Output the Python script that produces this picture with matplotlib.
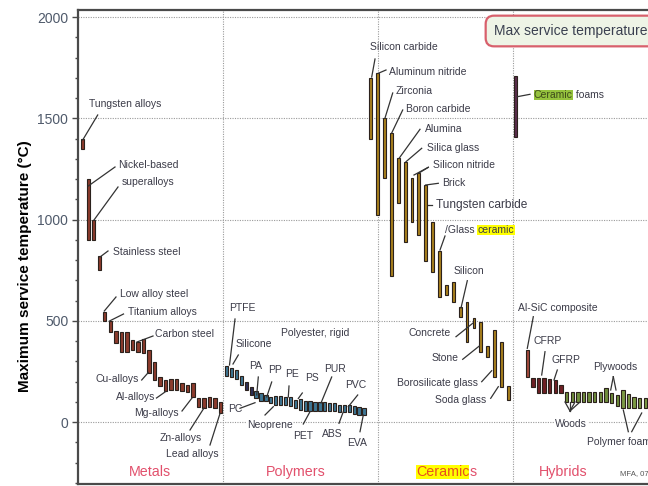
import numpy as np
import matplotlib
matplotlib.use("Agg")
import matplotlib.pyplot as plt
import matplotlib.transforms as mtrans

plt.rcParams['font.family'] = ['Liberation Sans', 'DejaVu Sans']

# max service temperature ranges (deg C), low / high end of each bar
metals_lo = [1350, 900, 900, 750, 500, 446, 392, 347, 347, 356, 347, 339, 244,
             207, 178, 155, 158, 158, 155, 150, 122, 72, 69, 72, 68, 43]
metals_hi = [1400, 1200, 1000, 820, 545, 500, 451, 446, 446, 405, 397, 408, 356,
             298, 224, 207, 212, 215, 194, 183, 194, 117, 117, 122, 117, 100]

polymers_lo = [228, 222, 214, 184, 160, 135, 119, 102, 102, 94, 86, 86, 86, 81, 69,
               61, 56, 56, 56, 56, 56, 53, 53, 49, 49, 49, 40, 36, 33]
polymers_hi = [278, 266, 258, 225, 198, 171, 155, 143, 135, 122, 127, 127, 122, 122, 110,
               115, 105, 102, 99, 99, 99, 94, 94, 86, 86, 86, 77, 72, 69]

ceramics_lo = [1400, 1022, 1203, 720, 1080, 890, 989, 923, 797, 742, 619,
               627, 594, 520, 397, 462, 347, 322, 224, 174, 109]
ceramics_hi = [1700, 1722, 1500, 1426, 1302, 1285, 1203, 1228, 1170, 989, 846,
               677, 693, 569, 594, 512, 495, 375, 454, 397, 178]

foam_lo = [1409]
foam_hi = [1709]

hybrids_lo = [224, 171, 142, 142, 142, 142, 142, 100, 100, 100, 100, 100, 100, 100,
              100, 92, 79, 68, 68, 68, 68, 68]
hybrids_hi = [356, 219, 219, 219, 211, 207, 183, 150, 150, 150, 150, 150, 150, 150,
              166, 142, 133, 158, 140, 126, 118, 118]
hybrid_kind = ['composite'] + ['frp'] * 6 + ['wood'] * 10 + ['pfoam'] * 5

categories = ['Metals', 'Polymers', 'Ceramics', 'Hybrids']

W, H = 648, 486
fig = plt.figure(figsize=(W / 100, H / 100), dpi=100)
# axes placed in pixel terms: left spine at x=78, top at y=10, bottom at y=484
ax = fig.add_axes([78 / W, 2 / H, (760 - 78) / W, 474 / H])
ax.set_xlim(78, 760)
ax.set_ylim(-306, 2035)

# pixel transform (origin top-left) for labels and leader lines
pix = mtrans.Affine2D().scale(1 / W, -1 / H).translate(0, 1) + fig.transFigure

edge = '#2b211c'
fs = 7.5  # label size


def draw_group(lo, hi, x0, x1, colors, width):
    lo = np.asarray(lo, float)
    hi = np.asarray(hi, float)
    x = np.linspace(x0, x1, len(lo))
    ax.bar(x, hi - lo, bottom=lo, width=width, color=colors, edgecolor=edge,
           linewidth=0.8, zorder=3)


draw_group(metals_lo, metals_hi, 82.7, 220.7, '#8c3b2c', 3.4)
poly_cols = ['#3d7694'] * len(polymers_lo)
poly_cols[4] = poly_cols[5] = '#2d2f58'
draw_group(polymers_lo, polymers_hi, 226.7, 364, poly_cols, 3.3)
draw_group(ceramics_lo, ceramics_hi, 370.7, 508.3, '#a8801c', 2.8)
draw_group(foam_lo, foam_hi, 515, 515, '#5a2d4c', 3.0)
kind_col = {'composite': '#a34a3c', 'frp': '#6e1f24', 'wood': '#6f8d3b', 'pfoam': '#7c9a44'}
draw_group(hybrids_lo, hybrids_hi, 527.3, 645.3, [kind_col[k] for k in hybrid_kind], 3.4)

# grid, spines, ticks
for v in [0, 500, 1000, 1500, 2000]:
    ax.axhline(v, color='#9a9a9a', lw=0.8, ls=(0, (1, 1.2)), zorder=1)
for xs in [223, 378, 513]:
    ax.axvline(xs, color='#9a9a9a', lw=0.8, ls=(0, (1, 1.2)), zorder=1)

for s in ['left', 'top', 'bottom']:
    ax.spines[s].set_color('#4a4a4a')
    ax.spines[s].set_linewidth(1.6)
ax.spines['right'].set_visible(False)
ax.set_xticks([])
ax.set_yticks([0, 500, 1000, 1500, 2000])
ax.set_yticks(np.arange(-300, 2001, 100), minor=True)
ax.tick_params(axis='y', which='major', length=4, width=1, color='#4a4a4a',
               labelsize=10, labelcolor='#4f5a6b', pad=3)
ax.tick_params(axis='y', which='minor', length=2.5, width=1, color='#4a4a4a')
ax.set_ylabel('Maximum service temperature (°C)', fontsize=11, fontweight='bold')
ax.yaxis.label.set_transform(mtrans.blended_transform_factory(
    mtrans.Affine2D().scale(1 / W, 1) + fig.transFigure, ax.transAxes))
ax.yaxis.label.set_position((18, (484 - 266) / 474))

txt_col = '#3b3b48'
lead_col = '#333333'

# (label, x, y, ha, leader lines) in pixel coordinates
labels = [
    ("Tungsten alloys", 89, 104, 'left', [[(82.7, 140), (97.7, 115)]]),
    ("Nickel-based", 118, 165, 'left', [[(88.3, 186), (115, 167)]]),
    ("superalloys", 122, 182, 'left', [[(94, 220), (118, 187)]]),
    ("Stainless steel", 113, 252, 'left', [[(100, 257), (108, 251)]]),
    ("Low alloy steel", 120, 294, 'left', [[(104.3, 311), (116, 297)]]),
    ("Titanium alloys", 128, 312, 'left', [[(109.5, 321), (123.5, 314)]]),
    ("Carbon steel", 155, 334, 'left', [[(137, 342), (153, 336)]]),
    ("Cu-alloys", 139, 379, 'right', [[(141.7, 380), (148.3, 372.5)]]),
    ("Al-alloys", 155, 397, 'right', [[(156.5, 398), (165.7, 391.5)]]),
    ("Mg-alloys", 179, 413, 'right', [[(182, 411), (192, 398)]]),
    ("Zn-alloys", 160, 438, 'left', [[(190, 430), (204, 408)]]),
    ("Lead alloys", 166, 454, 'left', [[(210, 445), (220, 413.5)]]),
    ("PTFE", 229, 308, 'left', [[(235, 319), (229.5, 365)]]),
    ("Silicone", 235.7, 344, 'left', [[(238.3, 355), (233, 364)]]),
    ("Polyester, rigid", 281, 333, 'left', []),
    ("PA", 249.3, 366, 'left', [[(258.3, 377), (256.7, 395)]]),
    ("PP", 268.3, 370, 'left', [[(271.7, 382), (266.7, 397)]]),
    ("PE", 285, 374.3, 'left', [[(289, 386), (288.3, 397)]]),
    ("PS", 305, 378.3, 'left', [[(302.3, 393), (298.3, 398.5)]]),
    ("PUR", 324.3, 369.3, 'left', [[(331.7, 377), (321, 403)]]),
    ("PVC", 345, 385, 'left', [[(357.7, 395), (348.3, 406.7)]]),
    ("PC", 227.7, 409.3, 'left', [[(240, 408.3), (255, 402.7)]]),
    ("PET", 293.3, 436, 'left', [[(303.3, 424), (310, 411.7)]]),
    ("ABS", 322.3, 434, 'left', [[(339, 423.3), (343.3, 411.7)]]),
    ("EVA", 346.7, 443.3, 'left', [[(360, 431.7), (363.3, 415)]]),
    ("Silicon carbide", 370, 47, 'left', [[(371.7, 77), (375, 59)]]),
    ("Aluminum nitride", 389.3, 71.7, 'left', [[(378.3, 73.3), (386, 70)]]),
    ("Zirconia", 396, 91, 'left', [[(385, 118), (392.7, 93)]]),
    ("Boron carbide", 406, 109.3, 'left', [[(391.7, 133), (402.7, 110)]]),
    ("Alumina", 425, 129.3, 'left', [[(399.3, 158), (420, 129.3)]]),
    ("Silica glass", 426.7, 148.3, 'left', [[(406, 161.7), (421.7, 148.3)]]),
    ("Silicon nitride", 432.7, 165, 'left', [[(414, 175), (428.3, 167.3)],
                                              [(419, 173), (428.3, 167.3)]]),
    ("Brick", 441.7, 183.3, 'left', [[(425.7, 185), (438.3, 183.3)]]),
    ("Silicon", 454, 270.7, 'left', [[(467.3, 280.7), (461, 308)]]),
    ("Concrete", 450.7, 333.3, 'right', [[(456, 336.7), (472.7, 323.3)]]),
    ("Stone", 459, 358.3, 'right', [[(462.7, 359.3), (479.3, 346)]]),
    ("Borosilicate glass", 478.3, 382.7, 'right', [[(481.7, 381.7), (491.7, 370.7)]]),
    ("Soda glass", 486, 400, 'right', [[(490.7, 398.3), (498.3, 386.7)]]),
    ("Al-SiC composite", 518.3, 308.3, 'left', [[(533.3, 316.7), (527.3, 348.3)]]),
    ("CFRP", 533.3, 341, 'left', [[(545, 351.7), (541.7, 375)]]),
    ("GFRP", 551, 360, 'left', [[(557.3, 370), (554, 380)]]),
    ("Plywoods", 592.7, 367.3, 'left', [[(613.3, 376.7), (610.7, 390)],
                                        [(613.3, 376.7), (616, 390)]]),
    ("Polymer foams", 587.3, 441.7, 'left', [[(628.3, 431.7), (623.3, 410)],
                                             [(631.7, 431.7), (641.7, 413)]]),
]

for text, x, y, ha, leaders in labels:
    ax.text(x, y, text, transform=pix, ha=ha, va='center', fontsize=fs,
            color=txt_col, zorder=5)
    for seg in leaders:
        (x1, y1), (x2, y2) = seg
        ax.plot([x1, x2], [y1, y2], transform=pix, color=lead_col, lw=0.9,
                clip_on=False, zorder=4)

# labels that sit on the zero gridline get a white backing
for text, x, y in [("Neoprene", 246.7, 425), ("Woods", 555, 424)]:
    ax.text(x, y, text, transform=pix, ha='left', va='center', fontsize=fs,
            color=txt_col, zorder=5,
            bbox=dict(facecolor='white', edgecolor='none', pad=0.5))
ax.plot([265, 273.3], [415, 406.7], transform=pix, color=lead_col, lw=0.9, zorder=4)
for xb in [565, 570, 575, 580]:
    ax.plot([570, xb], [411, 402], transform=pix, color=lead_col, lw=0.9, zorder=4)

# tungsten carbide sits in a slightly larger font
ax.text(436, 205, "Tungsten carbide", transform=pix, ha='left', va='center',
        fontsize=8.6, color=txt_col, zorder=5)
ax.plot([428.3, 431.5], [205, 205], transform=pix, color=lead_col, lw=0.9, zorder=4)

# glass ceramic, with highlighted word
t1 = ax.text(445, 230, "/Glass ", transform=pix, ha='left', va='center',
             fontsize=fs, color=txt_col, zorder=5)
ax.annotate("ceramic", xy=(1, 0.5), xycoords=t1, ha='left', va='center',
            fontsize=fs, color=txt_col, zorder=5,
            bbox=dict(facecolor='#ffff00', edgecolor='none', pad=0.3))
ax.plot([440, 445], [250, 236], transform=pix, color=lead_col, lw=0.9, zorder=4)

# ceramic foams
t2 = ax.text(534, 95, "Ceramic", transform=pix, ha='left', va='center',
             fontsize=fs, color='#3d4a1a', zorder=5,
             bbox=dict(facecolor='#95c23d', edgecolor='none', pad=0.3))
ax.annotate(" foams", xy=(1, 0.5), xycoords=t2, ha='left', va='center',
            fontsize=fs, color=txt_col, zorder=5)
ax.plot([517.3, 530], [96.7, 94.3], transform=pix, color=lead_col, lw=0.9, zorder=4)

# category names along the bottom
cat_col = '#e2506c'
cat_x = [150, 295.5, 440, 563.3]
for name, cx in zip(categories, cat_x):
    if name == 'Ceramics':
        t3 = ax.text(cx + 2.5, 472, name[:-1], transform=pix, ha='center', va='center',
                     fontsize=10.3, color='#e8501e', zorder=5,
                     bbox=dict(facecolor='#ffff00', edgecolor='none', pad=0.2))
        ax.annotate(name[-1], xy=(1, 0.5), xycoords=t3, ha='left', va='center',
                    fontsize=10.3, color=cat_col, zorder=5)
    else:
        ax.text(cx, 472, name, transform=pix, ha='center', va='center',
                fontsize=10.3, color=cat_col, zorder=5)

ax.text(620, 474, "MFA, 07", transform=pix, ha='left', va='center', fontsize=5.6,
        color='#555555', zorder=5)

# title box
ax.text(494, 31, "Max service temperature", transform=pix, ha='left', va='center',
        fontsize=10, color='#3a4050', zorder=6,
        bbox=dict(boxstyle='round,pad=0.6,rounding_size=0.6', facecolor='#eef4e6',
                  edgecolor='#d8606c', linewidth=1.6))

fig.savefig('out.png', dpi=100)
